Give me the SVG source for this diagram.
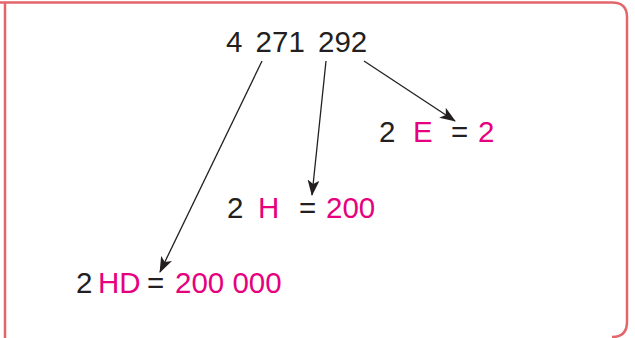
<svg xmlns="http://www.w3.org/2000/svg" width="635" height="338" viewBox="0 0 635 338">
<defs>
<style>
.t{font-family:"Liberation Sans",Arial,sans-serif;font-size:29.5px;fill:#231f20}
.p{fill:#e6007e}
.c{stroke:#231f20;stroke-width:1.3;fill:none;marker-end:url(#ah)}
</style>
<marker id="ah" markerUnits="userSpaceOnUse" markerWidth="16" markerHeight="12" refX="15" refY="6" orient="auto" viewBox="0 0 16 12">
<path d="M0,0 L16,6 L0,12 L4,6 z" fill="#231f20"/>
</marker>
</defs>
<rect width="635" height="338" fill="#fff"/>
<path id="frame" d="M5,340 L5,3 M0,2.5 L612,2.5 Q627,2.5 627,17 L627,322 Q627,337 612,337" fill="none" stroke="#e2666a" stroke-width="2.5"/>
<g id="number"><text class="t" x="226" y="52" font-size="31" word-spacing="5">4 271 292</text></g>
<g id="connectors">
<line class="c" x1="262" y1="61" x2="160" y2="272"/>
<line class="c" x1="326" y1="61" x2="312" y2="195"/>
<line class="c" x1="364" y1="61" x2="455" y2="121"/>
</g>
<g id="units"><text class="t" y="142"><tspan x="379">2</tspan><tspan class="p" x="413">E</tspan><tspan x="451">=</tspan><tspan class="p" x="478">2</tspan></text></g>
<g id="hundreds"><text class="t" y="218"><tspan x="227">2</tspan><tspan class="p" x="258">H</tspan><tspan x="299">=</tspan><tspan class="p" x="326">200</tspan></text></g>
<g id="hthousands"><text class="t" y="293"><tspan x="76">2</tspan><tspan class="p" x="98">HD</tspan><tspan x="147">=</tspan><tspan class="p" x="175">200 000</tspan></text></g>
</svg>
